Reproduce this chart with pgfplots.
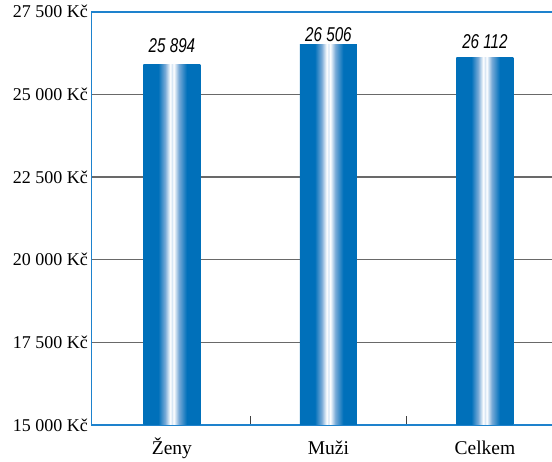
\documentclass[border=0pt]{standalone}
\usepackage{fontspec}
\setmainfont{Liberation Serif}
\newfontfamily\valfont[FakeStretch=0.76]{Liberation Sans}
\usepackage{pgfplots}
\pgfplotsset{compat=1.18}

\definecolor{barblue}{RGB}{0,112,186}
\definecolor{barmid}{RGB}{120,170,215}
\definecolor{barpale}{RGB}{215,230,245}
\definecolor{axblue}{RGB}{30,130,205}
\definecolor{gridgray}{RGB}{105,105,105}

% blue at the edges, white in the middle
\pgfdeclarehorizontalshading{barshade}{100bp}{%
  color(0bp)=(barblue); color(38bp)=(barblue); color(44bp)=(barmid);
  color(48.5bp)=(white); color(50bp)=(barpale); color(51.5bp)=(white);
  color(56bp)=(barmid); color(63bp)=(barblue); color(100bp)=(barblue)}

\pgfplotsset{
  shadedbar/.style={draw=none, shading=barshade, bar shift=0pt},
}

\begin{document}
\begin{tikzpicture}
\begin{axis}[
  name=ax,
  at={(0,0)}, anchor=south west,
  scale only axis,
  width=463.9pt, height=413.3pt,
  xmin=-0.514, xmax=2.45,
  ymin=15000, ymax=27500,
  ybar, bar width=57pt,
  axis line style={draw=axblue, line width=1.6pt},
  xtick={0,1,2},
  xticklabels={Ženy, Muži, Celkem},
  minor xtick={0.5,1.5},
  major tick length=0pt,
  minor tick length=9pt,
  minor tick style={draw=black!75, line width=1pt},
  tick align=inside,
  xtick pos=bottom,
  ytick pos=left,
  ytick={17500,20000,22500,25000},
  yticklabels={17 500 Kč, 20 000 Kč, 22 500 Kč, 25 000 Kč},
  extra y ticks={15000,27500},
  extra y tick labels={15 000 Kč, 27 500 Kč},
  extra y tick style={grid=none},
  ymajorgrids,
  major grid style={gridgray, line width=1.3pt},
  yticklabel style={font=\fontsize{18}{20}\selectfont},
  xticklabel style={font=\fontsize{19.5}{22}\selectfont, anchor=base, yshift=-29.3pt},
  point meta=explicit symbolic,
  nodes near coords,
  nodes near coords style={font=\valfont\itshape\fontsize{20}{22}\selectfont, anchor=base, inner sep=0pt},
]
\addplot[shadedbar] coordinates {(0,25894) [\raisebox{11.8pt}{25 894}]};
\addplot[shadedbar] coordinates {(1,26506) [\raisebox{3.4pt}{26 506}]};
\addplot[shadedbar] coordinates {(2,26112) [\raisebox{9pt}{26 112}]};
\end{axis}
% left and top frame lines, drawn again so they are clearly visible
\draw[axblue, line width=1.8pt] (0pt,0pt) -- (0pt,413.3pt) -- (470pt,413.3pt);
\pgfresetboundingbox
\path[use as bounding box] (-91.5pt,-37pt) rectangle (460.5pt,425pt);
\end{tikzpicture}
\end{document}
